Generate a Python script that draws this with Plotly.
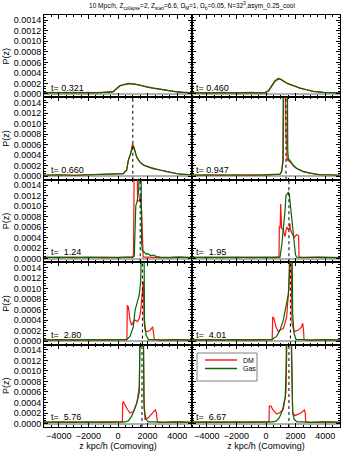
import plotly.graph_objects as go
from plotly.subplots import make_subplots

# ---------------- data ----------------
times = ["t= 0.321", "t= 0.460", "t= 0.660", "t= 0.947", "t=\u00a0 1.24",
         "t=\u00a0 1.95", "t=\u00a0 2.80", "t=\u00a0 4.01", "t=\u00a0 5.76", "t=\u00a0 6.67"]

# panel 1 (t=0.321)
z_gas_1 = [-5000, -4500, -4000, -3500, -3000, -2500, -2000, -1500, -1000, -600, -315, -90, 135, 360, 698, 1036, 1486, 1937, 2387, 2838, 3288, 3739, 4189, 4600, 5000]
gas_1 = [0.00002, 0.00003, 0.00002, 0.00003, 0.00002, 0.00003, 0.00002, 0.00003, 0.00003, 0.00003, 0.00004, 0.00010, 0.00015, 0.00017, 0.00019, 0.00019, 0.00016, 0.00013, 0.00011, 0.00009, 0.00007, 0.00005, 0.00003, 0.00003, 0.00002]
z_dm_1 = z_gas_1
dm_1 = [0.00003, 0.00002, 0.00003, 0.00002, 0.00003, 0.00002, 0.00003, 0.00002, 0.00003, 0.00004, 0.00005, 0.00011, 0.00016, 0.00018, 0.00020, 0.00019, 0.00017, 0.00013, 0.00011, 0.00009, 0.00006, 0.00005, 0.00004, 0.00002, 0.00002]

# panel 2 (t=0.460)
z_gas_2 = [-5000, -4500, -4000, -3000, -2000, -1000, -500, -68, 158, 383, 608, 833, 991, 1171, 1509, 1847, 2297, 2748, 3198, 3874, 4550, 5000]
gas_2 = [0.00002, 0.00002, 0.00003, 0.00002, 0.00003, 0.00002, 0.00002, 0.00002, 0.00005, 0.00015, 0.00024, 0.00028, 0.00028, 0.00024, 0.00019, 0.00016, 0.00011, 0.00008, 0.00005, 0.00003, 0.00002, 0.00002]
z_dm_2 = z_gas_2
dm_2 = [0.00003, 0.00002, 0.00002, 0.00003, 0.00002, 0.00003, 0.00002, 0.00003, 0.00006, 0.00016, 0.00025, 0.00030, 0.00027, 0.00025, 0.00019, 0.00015, 0.00011, 0.00008, 0.00005, 0.00003, 0.00003, 0.00002]

# panel 3 (t=0.660)
z_gas_3 = [-5000, -4000, -3000, -2000, -1000, 0, 360, 586, 698, 856, 991, 1081, 1261, 1486, 1712, 2050, 2387, 2838, 3288, 3739, 4189, 5000]
gas_3 = [0.00002, 0.00003, 0.00002, 0.00003, 0.00003, 0.00004, 0.00005, 0.00012, 0.00030, 0.00043, 0.00057, 0.00055, 0.00037, 0.00027, 0.00021, 0.00018, 0.00015, 0.00012, 0.00009, 0.00006, 0.00004, 0.00003]
z_dm_3 = z_gas_3
dm_3 = [0.00002, 0.00003, 0.00002, 0.00003, 0.00003, 0.00004, 0.00005, 0.00012, 0.00031, 0.00044, 0.00062, 0.00054, 0.00036, 0.00027, 0.00022, 0.00018, 0.00014, 0.00012, 0.00009, 0.00006, 0.00004, 0.00003]

# panel 4 (t=0.947)
z_gas_4 = [-5000, -4000, -3000, -2000, -1000, 0, 500, 946, 1058, 1140, 1171, 1300, 1441, 1470, 1509, 1700, 1847, 2072, 2297, 2523, 2973, 3649, 4300, 5000]
gas_4 = [0.00002, 0.00003, 0.00002, 0.00003, 0.00002, 0.00003, 0.00003, 0.00004, 0.00009, 0.00030, 0.00200, 0.00200, 0.00200, 0.00050, 0.00034, 0.00027, 0.00021, 0.00015, 0.00012, 0.00009, 0.00006, 0.00003, 0.00003, 0.00002]
z_dm_4 = [-5000, -4000, -3000, -2000, -1000, 0, 500, 946, 1058, 1171, 1200, 1300, 1360, 1396, 1430, 1470, 1509, 1700, 1847, 2072, 2297, 2523, 2973, 3649, 4300, 5000]
dm_4 = [0.00003, 0.00002, 0.00003, 0.00002, 0.00003, 0.00002, 0.00003, 0.00004, 0.00010, 0.00030, 0.00200, 0.00200, 0.00070, 0.00070, 0.00030, 0.00035, 0.00030, 0.00026, 0.00020, 0.00015, 0.00012, 0.00009, 0.00006, 0.00003, 0.00003, 0.00002]

# panel 5 (t=1.24)
z_gas_5 = [-5000, -4000, -3000, -2000, -1000, 0, 500, 1000, 1100, 1150, 1200, 1300, 1400, 1450, 1550, 1600, 1650, 1800, 1900, 2000, 2200, 2400, 2600, 2840, 3500, 4200, 5000]
gas_5 = [0.00002, 0.00003, 0.00002, 0.00003, 0.00002, 0.00003, 0.00003, 0.00003, 0.00005, 0.00040, 0.00100, 0.00110, 0.00130, 0.00200, 0.00200, 0.00030, 0.00015, 0.00012, 0.00008, 0.00010, 0.00006, 0.00007, 0.00004, 0.00003, 0.00002, 0.00003, 0.00002]
z_dm_5 = [-5000, -4000, -3000, -2000, -1000, 0, 500, 1000, 1050, 1100, 1300, 1320, 1450, 1500, 1600, 1650, 1700, 2000, 3000, 4000, 5000]
dm_5 = [0.00003, 0.00002, 0.00003, 0.00002, 0.00003, 0.00002, 0.00003, 0.00003, 0.00010, 0.00200, 0.00200, 0.00110, 0.00110, 0.00120, 0.00090, 0.00010, 0.00003, 0.00003, 0.00002, 0.00003, 0.00002]

# panel 6 (t=1.95)
z_gas_6 = [-5000, -4000, -3000, -2000, -1000, 0, 500, 946, 1060, 1171, 1284, 1350, 1509, 1575, 1700, 1850, 1990, 2072, 2500, 3000, 4000, 5000]
gas_6 = [0.00002, 0.00003, 0.00002, 0.00003, 0.00002, 0.00003, 0.00002, 0.00003, 0.00025, 0.00054, 0.00090, 0.00120, 0.00126, 0.00122, 0.00085, 0.00042, 0.00008, 0.00003, 0.00003, 0.00002, 0.00003, 0.00002]
z_dm_6 = [-5000, -4000, -3000, -2000, -1000, 0, 500, 880, 901, 960, 991, 1020, 1058, 1171, 1284, 1396, 1509, 1600, 1622, 1650, 1734, 1892, 2072, 2200, 2230, 2500, 3500, 5000]
dm_6 = [0.00003, 0.00002, 0.00003, 0.00002, 0.00003, 0.00002, 0.00003, 0.00003, 0.00061, 0.00060, 0.00104, 0.00060, 0.00058, 0.00055, 0.00042, 0.00060, 0.00055, 0.00060, 0.00067, 0.00055, 0.00050, 0.00040, 0.00046, 0.00044, 0.00003, 0.00002, 0.00003, 0.00002]

# panel 7 (t=2.80)
z_gas_7 = [-5000, -4000, -3000, -2000, -1000, 0, 586, 811, 1036, 1149, 1306, 1441, 1532, 1599, 1757, 1790, 1892, 2050, 2500, 3000, 4000, 5000]
gas_7 = [0.00002, 0.00003, 0.00002, 0.00003, 0.00002, 0.00003, 0.00003, 0.00009, 0.00027, 0.00058, 0.00077, 0.00089, 0.00114, 0.00200, 0.00200, 0.00040, 0.00012, 0.00003, 0.00003, 0.00002, 0.00003, 0.00002]
z_dm_7 = [-5000, -4000, -3000, -2000, -1000, 0, 600, 631, 698, 811, 923, 1036, 1149, 1306, 1441, 1532, 1644, 1712, 1760, 1824, 1937, 2162, 2342, 2400, 2455, 3000, 4000, 5000]
dm_7 = [0.00003, 0.00002, 0.00003, 0.00002, 0.00003, 0.00003, 0.00003, 0.00068, 0.00065, 0.00040, 0.00030, 0.00037, 0.00040, 0.00037, 0.00043, 0.00058, 0.00100, 0.00114, 0.00040, 0.00021, 0.00018, 0.00020, 0.00027, 0.00018, 0.00003, 0.00002, 0.00003, 0.00002]

# panel 8 (t=4.01)
z_gas_8 = [-5000, -4000, -3000, -2000, -1000, 0, 383, 721, 946, 1171, 1396, 1509, 1590, 1622, 1757, 1802, 1892, 2027, 2500, 3000, 4000, 5000]
gas_8 = [0.00002, 0.00003, 0.00002, 0.00003, 0.00002, 0.00003, 0.00003, 0.00009, 0.00021, 0.00040, 0.00071, 0.00089, 0.00130, 0.00200, 0.00200, 0.00052, 0.00015, 0.00003, 0.00003, 0.00002, 0.00003, 0.00002]
z_dm_8 = [-5000, -4000, -3000, -2000, -1000, 0, 420, 450, 541, 676, 833, 946, 1171, 1284, 1396, 1540, 1622, 1700, 1757, 1892, 2185, 2410, 2477, 2540, 2568, 3000, 4000, 5000]
dm_8 = [0.00003, 0.00002, 0.00003, 0.00002, 0.00003, 0.00003, 0.00003, 0.00046, 0.00043, 0.00027, 0.00018, 0.00021, 0.00024, 0.00034, 0.00046, 0.00100, 0.00200, 0.00160, 0.00034, 0.00018, 0.00021, 0.00027, 0.00034, 0.00020, 0.00003, 0.00002, 0.00003, 0.00002]

# panel 9 (t=5.76)
z_gas_9 = [-5000, -4000, -3000, -2000, -1000, 0, 473, 698, 923, 1149, 1306, 1441, 1486, 1712, 1757, 1892, 2050, 2500, 3000, 4000, 5000]
gas_9 = [0.00002, 0.00003, 0.00002, 0.00003, 0.00002, 0.00003, 0.00003, 0.00005, 0.00014, 0.00029, 0.00042, 0.00060, 0.00200, 0.00200, 0.00029, 0.00008, 0.00003, 0.00003, 0.00002, 0.00003, 0.00002]
z_dm_9 = [-5000, -4000, -3000, -2000, -1000, 0, 300, 315, 360, 586, 811, 1036, 1216, 1306, 1441, 1500, 1700, 1757, 1824, 2050, 2275, 2432, 2523, 2600, 2658, 3000, 4000, 5000]
dm_9 = [0.00003, 0.00002, 0.00003, 0.00002, 0.00003, 0.00003, 0.00003, 0.00039, 0.00042, 0.00029, 0.00020, 0.00023, 0.00035, 0.00045, 0.00070, 0.00200, 0.00200, 0.00050, 0.00008, 0.00011, 0.00017, 0.00023, 0.00026, 0.00020, 0.00003, 0.00002, 0.00003, 0.00002]

# panel 10 (t=6.67)
z_gas_10 = [-5000, -4000, -3000, -2000, -1000, 0, 495, 700, 900, 1100, 1300, 1351, 1400, 1700, 1757, 1802, 1900, 2100, 2500, 3000, 4000, 5000]
gas_10 = [0.00002, 0.00003, 0.00002, 0.00003, 0.00002, 0.00003, 0.00003, 0.00005, 0.00011, 0.00024, 0.00050, 0.00100, 0.00200, 0.00200, 0.00050, 0.00020, 0.00008, 0.00003, 0.00003, 0.00002, 0.00003, 0.00002]
z_dm_10 = [-5000, -4000, -3000, -2000, -1000, 0, 200, 225, 338, 450, 721, 946, 1171, 1351, 1441, 1667, 1802, 1959, 2185, 2410, 2590, 2650, 2680, 3000, 4000, 5000]
dm_10 = [0.00003, 0.00002, 0.00003, 0.00002, 0.00003, 0.00003, 0.00003, 0.00033, 0.00033, 0.00027, 0.00018, 0.00021, 0.00027, 0.00060, 0.00200, 0.00200, 0.00021, 0.00015, 0.00018, 0.00021, 0.00026, 0.00020, 0.00003, 0.00002, 0.00003, 0.00002]

z_gas = [z_gas_1, z_gas_2, z_gas_3, z_gas_4, z_gas_5, z_gas_6, z_gas_7, z_gas_8, z_gas_9, z_gas_10]
gas = [gas_1, gas_2, gas_3, gas_4, gas_5, gas_6, gas_7, gas_8, gas_9, gas_10]
z_dm = [z_dm_1, z_dm_2, z_dm_3, z_dm_4, z_dm_5, z_dm_6, z_dm_7, z_dm_8, z_dm_9, z_dm_10]
dm = [dm_1, dm_2, dm_3, dm_4, dm_5, dm_6, dm_7, dm_8, dm_9, dm_10]

# dotted vertical marker positions (None = no marker)
z_mark = [None, None, 1000, 1350, 1500, 1550, 1650, 1650, 1620, 1550]

x_ticks = [-4000, -2000, 0, 2000, 4000]
y_ticks = [0.0, 0.0002, 0.0004, 0.0006, 0.0008, 0.0010, 0.0012, 0.0014]
legend_names = ["DM", "Gas"]

# ---------------- figure ----------------
FONT = "Liberation Sans, Arial, sans-serif"
RED = "#ff1010"
GREEN = "#006a00"
W, H = 354, 456
L, R, T, B = 44, 14, 15, 29


def px(xp):
    return (xp - L) / (W - L - R)


def py(yp):
    return (H - B - yp) / (H - T - B)


fig = make_subplots(rows=5, cols=2, horizontal_spacing=0, vertical_spacing=0)

for i in range(10):
    r = i // 2 + 1
    c = i % 2 + 1
    fig.add_trace(go.Scatter(x=z_dm[i], y=dm[i], mode="lines", name=legend_names[0],
                             line=dict(color=RED, width=1.2), showlegend=False),
                  row=r, col=c)
    fig.add_trace(go.Scatter(x=z_gas[i], y=gas[i], mode="lines", name=legend_names[1],
                             line=dict(color=GREEN, width=1.2), showlegend=False),
                  row=r, col=c)
    if z_mark[i] is not None:
        fig.add_vline(x=z_mark[i], line=dict(color="black", width=1, dash="dot"), row=r, col=c)
    fig.add_annotation(text=times[i], xref="x domain" if i == 0 else f"x{i+1} domain",
                       yref="y domain" if i == 0 else f"y{i+1} domain",
                       x=0.035 if c == 1 else 0.015, y=0.035, xanchor="left", yanchor="bottom",
                       showarrow=False, font=dict(family=FONT, size=9, color="black"))

    fig.update_xaxes(range=[-5000, 5000], tickvals=x_ticks, ticks="inside", ticklen=4,
                     tickcolor="black", mirror="allticks", showline=True, linecolor="black",
                     linewidth=1, showgrid=False, zeroline=False, automargin=False,
                     minor=dict(dtick=500, ticks="inside", ticklen=2, tickcolor="black"),
                     showticklabels=(r == 5), tickfont=dict(family=FONT, size=9, color="black"),
                     row=r, col=c)
    fig.update_yaxes(range=[-0.000066, 0.0015], tickvals=y_ticks, tickformat=".4f",
                     ticks="inside", ticklen=4, tickcolor="black", mirror="allticks",
                     showline=True, linecolor="black", linewidth=1, showgrid=False,
                     zeroline=True, zerolinecolor="#b0b0b0", zerolinewidth=1.5, automargin=False,
                     minor=dict(dtick=0.00005, ticks="inside", ticklen=2, tickcolor="black"),
                     showticklabels=(c == 1), tickfont=dict(family=FONT, size=9, color="black"),
                     row=r, col=c)
    if c == 1:
        fig.update_yaxes(title=dict(text="P(z)", font=dict(family=FONT, size=9, color="black"),
                                    standoff=2), row=r, col=c)
    if r == 5:
        fig.update_xaxes(title=dict(text="z kpc/h (Comoving)",
                                    font=dict(family=FONT, size=9, color="black"), standoff=2),
                         row=r, col=c)

# legend box drawn by hand (IDL style)
fig.add_shape(type="rect", xref="paper", yref="paper", x0=px(197), x1=px(257),
              y0=py(381), y1=py(353), line=dict(color="#808080", width=1), fillcolor="white")
fig.add_shape(type="line", xref="paper", yref="paper", x0=px(205), x1=px(237),
              y0=py(360), y1=py(360), line=dict(color="#ff5a5a", width=2))
fig.add_shape(type="line", xref="paper", yref="paper", x0=px(205), x1=px(237),
              y0=py(368.5), y1=py(368.5), line=dict(color=GREEN, width=1.5))
fig.add_annotation(text=legend_names[0], xref="paper", yref="paper", x=px(241), y=py(360),
                   xanchor="left", yanchor="middle", showarrow=False,
                   font=dict(family=FONT, size=7, color="black"))
fig.add_annotation(text=legend_names[1], xref="paper", yref="paper", x=px(241), y=py(368.5),
                   xanchor="left", yanchor="middle", showarrow=False,
                   font=dict(family=FONT, size=7, color="black"))

fig.update_layout(
    template="none",
    width=W, height=H,
    margin=dict(l=L, r=R, t=T, b=B, pad=0),
    paper_bgcolor="white", plot_bgcolor="white",
    font=dict(family=FONT, size=9, color="black"),
    showlegend=False,
    hovermode=False,
    title=dict(text="10 Mpc/h, Z<sub>collapse</sub>=2, Z<sub>start</sub>=6.6, "
                    "\u03a9<sub>M</sub>=1, \u03a9<sub>b</sub>=0.05, N=32<sup>3</sup>,asym_0.25_cool",
               x=px(192), xref="paper", xanchor="center", y=0.987, yanchor="middle",
               font=dict(family=FONT, size=6.5, color="black")),
)

fig.write_html("out.html", config={"displayModeBar": False},
               post_script="document.body.style.margin='0';document.body.style.overflow='hidden';")
